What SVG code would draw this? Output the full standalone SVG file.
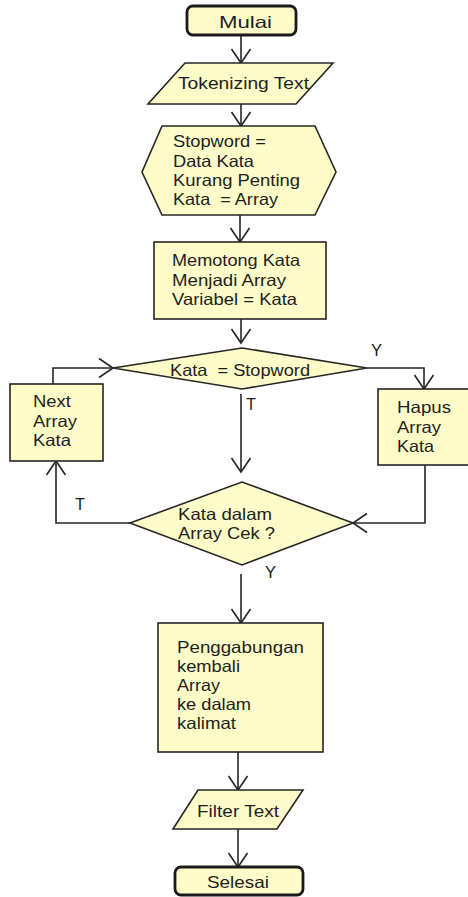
<svg xmlns="http://www.w3.org/2000/svg" width="468" height="897" viewBox="0 0 468 897">
<style>
.s{fill:#fefcc8;stroke:#262626;stroke-width:1.6}
.t{fill:#fefcc8;stroke:#1a1a1a;stroke-width:2.8}
text{font-family:"Liberation Sans",Arial,sans-serif;font-size:16.5px;fill:#1e1e1e}
.l{font-size:16.5px}
.c{fill:none;stroke:#262626;stroke-width:1.6}
</style>
<defs>
<marker id="a" viewBox="-16 -11 18 22" refX="0" refY="0" markerUnits="userSpaceOnUse" markerWidth="18" markerHeight="22" orient="auto">
<path d="M-14,-9.5 L0,0 L-14,9.5" fill="none" stroke="#262626" stroke-width="1.6"/>
</marker>
</defs>
<rect width="468" height="897" fill="#ffffff"/>
<g id="connectors">
<path class="c" d="M241,35 V63" marker-end="url(#a)"/>
<path class="c" d="M241,104 V126" marker-end="url(#a)"/>
<path class="c" d="M240,215 V242" marker-end="url(#a)"/>
<path class="c" d="M241,319 V343" marker-end="url(#a)"/>
<path class="c" d="M367,368 H424 V389" marker-end="url(#a)"/>
<path class="c" d="M241,394 V472" marker-end="url(#a)"/>
<path class="c" d="M425,465 V523 H353" marker-end="url(#a)"/>
<path class="c" d="M130,523 H56 V461" marker-end="url(#a)"/>
<path class="c" d="M53,384 V368 H113" marker-end="url(#a)"/>
<path class="c" d="M241,574 V623" marker-end="url(#a)"/>
<path class="c" d="M238,752 V790" marker-end="url(#a)"/>
<path class="c" d="M238,829 V867" marker-end="url(#a)"/>
<text class="l" x="371" y="355.5" textLength="11" lengthAdjust="spacingAndGlyphs">Y</text>
<text class="l" x="246" y="409.5" textLength="10" lengthAdjust="spacingAndGlyphs">T</text>
<text class="l" x="75" y="509.5" textLength="10" lengthAdjust="spacingAndGlyphs">T</text>
<text class="l" x="265" y="577.5" textLength="11" lengthAdjust="spacingAndGlyphs">Y</text>
</g>
<g id="mulai">
<rect class="t" x="187" y="6" width="109" height="29" rx="6"/>
<text x="219" y="27.5" textLength="53" lengthAdjust="spacingAndGlyphs">Mulai</text>
</g>
<g id="tokenizing">
<polygon class="s" points="185,63 333,63 296,104 148,104"/>
<text x="178" y="89" textLength="131" lengthAdjust="spacingAndGlyphs">Tokenizing Text</text>
</g>
<g id="stopword">
<polygon class="s" points="162,126 315,126 336,172 315,215 162,215 142,172"/>
<text x="173" y="147" textLength="93" lengthAdjust="spacingAndGlyphs">Stopword =</text>
<text x="173" y="167" textLength="81" lengthAdjust="spacingAndGlyphs">Data Kata</text>
<text x="173" y="186" textLength="127" lengthAdjust="spacingAndGlyphs">Kurang Penting</text>
<text x="173" y="205" textLength="105" lengthAdjust="spacingAndGlyphs" xml:space="preserve">Kata  = Array</text>
</g>
<g id="memotong">
<rect class="s" x="154" y="242" width="172" height="77"/>
<text x="172" y="266" textLength="128" lengthAdjust="spacingAndGlyphs">Memotong Kata</text>
<text x="172" y="286" textLength="114" lengthAdjust="spacingAndGlyphs">Menjadi Array</text>
<text x="172" y="305" textLength="125" lengthAdjust="spacingAndGlyphs">Variabel = Kata</text>
</g>
<g id="cek-stopword">
<polygon class="s" points="113,368 242,348 367,368 242,389"/>
<text x="170" y="375.5" textLength="140" lengthAdjust="spacingAndGlyphs" xml:space="preserve">Kata  = Stopword</text>
</g>
<g id="next">
<rect class="s" x="10" y="384" width="93" height="77"/>
<text x="33" y="406.5" textLength="38" lengthAdjust="spacingAndGlyphs">Next</text>
<text x="33" y="426.5" textLength="44" lengthAdjust="spacingAndGlyphs">Array</text>
<text x="33" y="445.5" textLength="38" lengthAdjust="spacingAndGlyphs">Kata</text>
</g>
<g id="hapus">
<rect class="s" x="378" y="389" width="95" height="76"/>
<text x="397" y="412.5" textLength="54" lengthAdjust="spacingAndGlyphs">Hapus</text>
<text x="397" y="432.5" textLength="44" lengthAdjust="spacingAndGlyphs">Array</text>
<text x="397" y="451.5" textLength="37" lengthAdjust="spacingAndGlyphs">Kata</text>
</g>
<g id="cek-array">
<polygon class="s" points="130,523 242,482 353,523 242,565"/>
<text x="178" y="519.5" textLength="94" lengthAdjust="spacingAndGlyphs">Kata dalam</text>
<text x="178" y="538.5" textLength="97" lengthAdjust="spacingAndGlyphs">Array Cek ?</text>
</g>
<g id="penggabungan">
<rect class="s" x="158" y="623" width="165" height="129"/>
<text x="177" y="652.5" textLength="127" lengthAdjust="spacingAndGlyphs">Penggabungan</text>
<text x="177" y="671.5" textLength="63" lengthAdjust="spacingAndGlyphs">kembali</text>
<text x="177" y="691" textLength="43" lengthAdjust="spacingAndGlyphs">Array</text>
<text x="177" y="710" textLength="74" lengthAdjust="spacingAndGlyphs">ke dalam</text>
<text x="177" y="729" textLength="59" lengthAdjust="spacingAndGlyphs">kalimat</text>
</g>
<g id="filter">
<polygon class="s" points="198,790 303,790 277,829 173,829"/>
<text x="197" y="816.5" textLength="82" lengthAdjust="spacingAndGlyphs">Filter Text</text>
</g>
<g id="selesai">
<rect class="t" x="175" y="867" width="128" height="28" rx="6"/>
<text x="207" y="888" textLength="62" lengthAdjust="spacingAndGlyphs">Selesai</text>
</g>
</svg>
